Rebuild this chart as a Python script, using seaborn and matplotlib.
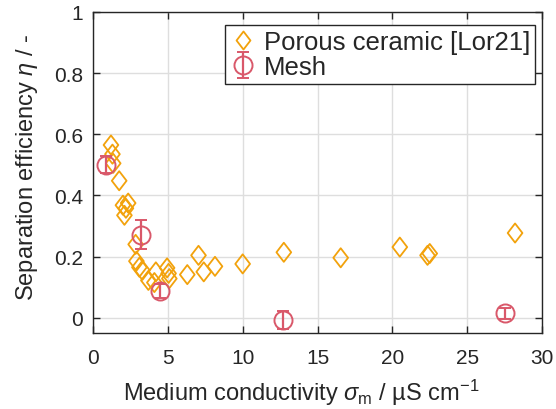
import numpy as np
import pandas as pd
import seaborn as sns
import matplotlib
matplotlib.use("Agg")
import matplotlib.pyplot as plt
from matplotlib.path import Path

porous_x = [1.2, 1.3, 1.35, 1.75, 2.0, 2.35, 2.2, 2.1, 2.85, 2.9, 3.1, 3.3,
            3.7, 4.2, 4.1, 4.95, 5.05, 5.1, 6.3, 7.05, 7.4, 8.15, 10.0, 12.75,
            16.55, 20.5, 22.35, 22.5, 28.2]
porous_y = [0.565, 0.535, 0.505, 0.448, 0.368, 0.375, 0.358, 0.335, 0.24, 0.185,
            0.165, 0.155, 0.122, 0.15, 0.115, 0.163, 0.145, 0.128, 0.141, 0.204,
            0.15, 0.168, 0.176, 0.214, 0.196, 0.231, 0.204, 0.21, 0.277]
mesh_x = [0.9, 3.2, 4.5, 12.7, 27.5]
mesh_y = [0.5, 0.272, 0.088, -0.008, 0.014]
mesh_err = [0.028, 0.047, 0.022, 0.03, 0.018]

sns.set_theme(style="whitegrid")
plt.rcParams['font.family'] = ['Liberation Sans', 'DejaVu Sans']
plt.rcParams['mathtext.fontset'] = 'custom'
plt.rcParams['mathtext.rm'] = 'Liberation Sans'
plt.rcParams['mathtext.it'] = 'Liberation Sans:italic'

fig = plt.figure(figsize=(5.56, 4.10), dpi=100)
ax = fig.add_axes([93/556, 1-334/410, (542-93)/556, (334-13)/410])

orange = '#F2A20C'
red = '#D9586A'
diamond = Path([(0, 1), (0.77, 0), (0, -1), (-0.77, 0), (0, 1)],
               [Path.MOVETO, Path.LINETO, Path.LINETO, Path.LINETO, Path.CLOSEPOLY])

df_p = pd.DataFrame({'x': porous_x, 'y': porous_y})
sns.scatterplot(data=df_p, x='x', y='y', ax=ax, marker=diamond, s=190,
                facecolor='none', edgecolor=orange, linewidth=1.3, zorder=3)

eb = ax.errorbar(mesh_x, mesh_y, yerr=mesh_err, fmt='o', ms=13, mfc='none',
                 mec=red, mew=1.4, ecolor=red, elinewidth=1.6, capsize=4,
                 capthick=1.6, zorder=4, label='Mesh')

h_p = plt.Line2D([], [], marker=diamond, ls='none', ms=13, mfc='none',
                 mec=orange, mew=1.3)
leg = ax.legend([h_p, eb], ['Porous ceramic [Lor21]', 'Mesh'], loc='upper right',
                bbox_to_anchor=(0.985, 0.96), borderaxespad=0, fontsize=18.5,
                frameon=True, fancybox=False, handlelength=1.0, handletextpad=0.3,
                borderpad=0.2, labelspacing=0.05)
leg.get_frame().set_edgecolor('#262626')
leg.get_frame().set_linewidth(1.0)
leg.get_frame().set_alpha(1)

ax.set_xlim(0, 30)
ax.set_ylim(-0.05, 1)
ax.set_xticks([0, 5, 10, 15, 20, 25, 30])
ax.set_yticks([0, 0.2, 0.4, 0.6, 0.8, 1])
ax.set_yticklabels(['0', '0.2', '0.4', '0.6', '0.8', '1'])
ax.grid(True, color='#dedede', linewidth=1.0)
ax.set_facecolor('white')
for s in ax.spines.values():
    s.set_color('#262626')
    s.set_linewidth(1.0)
    s.set_visible(True)
ax.tick_params(direction='in', length=5, width=1, color='#262626',
               labelsize=15, top=True, right=True, bottom=True, left=True,
               labelcolor='#262626')
ax.tick_params(axis='x', pad=11)
ax.tick_params(axis='y', pad=7)
ax.set_xlabel(r'Medium conductivity $\sigma_{\mathrm{m}}$ / µS cm$^{-1}$',
              fontsize=17, labelpad=7)
ax.set_ylabel(r'Separation efficiency $\eta$ / -', fontsize=17, labelpad=10)
ax.xaxis.label.set_x(0.463)
ax.yaxis.label.set_y(0.519)

fig.savefig('out.png', dpi=100)
